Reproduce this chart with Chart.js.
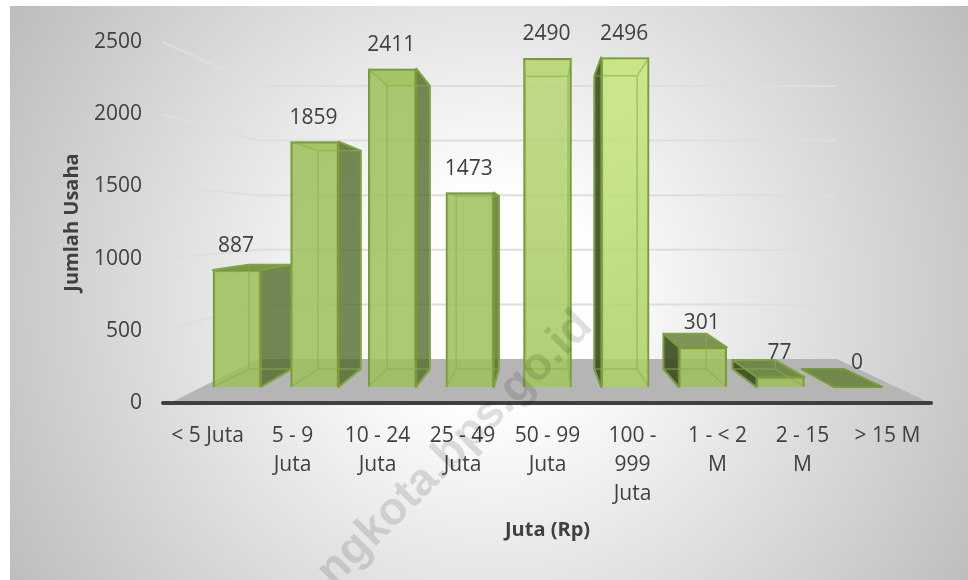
<!DOCTYPE html>
<html>
<head>
<meta charset="utf-8">
<script src="https://cdn.jsdelivr.net/npm/chart.js@4/dist/chart.umd.min.js"></script>
<style>
  html, body { margin: 0; padding: 0; background: #fff; }
  canvas { display: block; }
</style>
</head>
<body>
<canvas id="myChart" width="968" height="580"></canvas>
<script>
/*----------------------------Data------------------------------------*/
var categories = [
  "< 5 Juta",
  ["5 - 9", "Juta"],
  ["10 - 24", "Juta"],
  ["25 - 49", "Juta"],
  ["50 - 99", "Juta"],
  ["100 -", "999", "Juta"],
  ["1 - < 2", "M"],
  ["2 - 15", "M"],
  "> 15 M"
];
var jumlahUsaha = [887, 1859, 2411, 1473, 2490, 2496, 301, 77, 0];
var tickValues = [0, 500, 1000, 1500, 2000, 2500];

/*----------------------------Look------------------------------------*/
var textColor = "#404040";
var edgeColor = "#7a9a3a";
var barTopColors = ["rgba(157,191,90,.85)", "rgba(157,191,90,.85)", "rgba(157,191,90,.85)", "rgba(157,191,90,.85)", "rgba(185,215,118,.85)", "rgba(199,232,126,.85)", "rgba(157,191,90,.85)", "rgba(157,191,90,.85)", "rgba(157,191,90,.85)"];
var barLowColors = ["rgba(157,191,90,.85)", "rgba(157,191,90,.85)", "rgba(157,191,90,.85)", "rgba(157,191,90,.85)", "rgba(160,198,92,.85)", "rgba(170,208,100,.85)", "rgba(157,191,90,.85)", "rgba(157,191,90,.85)", "rgba(157,191,90,.85)"];

// 3d look: the back of a bar is the front shrunk towards this point
var vanishX = 540, vanishY = 224, depth = 0.89;
function backX(x) { return vanishX + (x - vanishX) * depth; }
function backY(y) { return vanishY + (y - vanishY) * depth; }

function poly(ctx, pts, fill, stroke) {
  ctx.beginPath();
  pts.forEach(function (p, i) { if (i) ctx.lineTo(p[0], p[1]); else ctx.moveTo(p[0], p[1]); });
  ctx.closePath();
  if (fill) { ctx.fillStyle = fill; ctx.fill(); }
  if (stroke) { ctx.strokeStyle = stroke; ctx.lineWidth = 2; ctx.lineJoin = "round"; ctx.stroke(); }
}

function frontBox(bar) {
  var w = bar.width / 2;
  return { l: bar.x - w, r: bar.x + w, t: bar.y, b: bar.base };
}

var scenePlugin = {
  id: "scene",
  beforeDraw: function (chart) {
    var ctx = chart.ctx;
    var g = ctx.createRadialGradient(490, 300, 0, 490, 300, 565);
    g.addColorStop(0, "#ffffff");
    g.addColorStop(0.18, "#ffffff");
    g.addColorStop(1, "#bcbcbc");
    ctx.fillStyle = g;
    ctx.fillRect(10, 6, 958, 574);
  },
  beforeDatasetsDraw: function (chart) {
    var ctx = chart.ctx, area = chart.chartArea;
    var y = chart.scales.y, wall = chart.scales.yWall;
    var wallLeft = 258, wallRight = 837;

    // grid lines: side wall then back wall
    ctx.save();
    ctx.lineWidth = 2;
    ctx.strokeStyle = "#dedede";
    tickValues.forEach(function (v) {
      if (v === 0) return;
      ctx.beginPath();
      ctx.moveTo(163, y.getPixelForValue(v));
      ctx.lineTo(wallLeft, wall.getPixelForValue(v));
      ctx.lineTo(wallRight, wall.getPixelForValue(v));
      ctx.stroke();
    });

    // floor
    poly(ctx, [[170, area.bottom], [wallLeft, wall.getPixelForValue(0)], [wallRight, wall.getPixelForValue(0)], [930, area.bottom]], "#b5b5b5");

    // axis line
    ctx.beginPath();
    ctx.moveTo(163, area.bottom);
    ctx.lineTo(931, area.bottom);
    ctx.lineWidth = 4;
    ctx.lineCap = "round";
    ctx.strokeStyle = "#3f3f3f";
    ctx.stroke();

    // sides and tops of the bars, behind all front faces
    chart.getDatasetMeta(0).data.forEach(function (bar) {
      var f = frontBox(bar);
      var bl = backX(f.l), br = backX(f.r), bt = backY(f.t), bb = backY(f.b);
      if (f.t > vanishY) {
        poly(ctx, [[f.l, f.t], [f.r, f.t], [br, bt], [bl, bt]], "rgba(95,125,50,0.8)", edgeColor);
      } else {
        poly(ctx, [[f.l, f.t], [f.r, f.t], [br, bt], [bl, bt]], "rgba(180,215,110,0.55)");
      }
      if (f.b - f.t < 1) return;
      if (br > f.r) {
        poly(ctx, [[f.r, f.t], [br, bt], [br, bb], [f.r, f.b]], "rgba(80,105,40,0.78)", edgeColor);
      }
      if (bl < f.l) {
        poly(ctx, [[f.l, f.t], [bl, bt], [bl, bb], [f.l, f.b]], "rgba(60,75,30,0.9)", "#6d8a3a");
      }
    });
    ctx.restore();
  },
  afterDatasetsDraw: function (chart) {
    var ctx = chart.ctx;
    ctx.save();
    chart.getDatasetMeta(0).data.forEach(function (bar, i) {
      var f = frontBox(bar);
      var bl = backX(f.l), br = backX(f.r), bt = backY(f.t), bb = backY(f.b);

      // edges seen through the glass
      if (f.b - f.t >= 1) {
        ctx.lineWidth = 1.5;
        ctx.strokeStyle = "rgba(135,175,70,0.6)";
        ctx.beginPath();
        ctx.moveTo(bl, bt); ctx.lineTo(bl, bb); ctx.lineTo(br, bb); ctx.lineTo(br, bt); ctx.closePath();
        ctx.moveTo(f.l, f.t); ctx.lineTo(bl, bt);
        ctx.moveTo(f.r, f.t); ctx.lineTo(br, bt);
        ctx.moveTo(f.l, f.b); ctx.lineTo(bl, bb);
        ctx.moveTo(f.r, f.b); ctx.lineTo(br, bb);
        ctx.stroke();
      }

      // value labels
      ctx.font = "21px 'Open Sans'";
      ctx.fillStyle = textColor;
      ctx.textAlign = "center";
      ctx.textBaseline = "middle";
      ctx.fillText(String(jumlahUsaha[i]), bar.x - 1, bar.y - 24);
    });
    ctx.restore();
  },
  afterDraw: function (chart) {
    // site watermark over the picture
    var ctx = chart.ctx;
    ctx.save();
    ctx.translate(334, 588);
    ctx.rotate(-Math.PI / 4);
    ctx.font = "bold 46px 'Liberation Sans'";
    ctx.fillStyle = "rgba(0,0,0,0.12)";
    ctx.textAlign = "left";
    ctx.textBaseline = "alphabetic";
    ctx.fillText("ngkota.bps.go.id", 0, 0);
    ctx.restore();
  }
};

/*----------------------------BarChart------------------------------------*/
new Chart("myChart", {
  type: "bar",
  plugins: [scenePlugin],
  data: {
    labels: categories,
    datasets: [{
      data: jumlahUsaha.map(function (v, i) { return { x: i, y: v }; }),
      xAxisID: "xBar",
      yAxisID: "yBar",
      barThickness: 48,
      borderColor: edgeColor,
      borderWidth: 2,
      backgroundColor: function (c) {
        var i = c.dataIndex, area = c.chart.chartArea;
        if (i === undefined || !area) return barTopColors[0];
        var g = c.chart.ctx.createLinearGradient(0, 60, 0, 390);
        g.addColorStop(0, barTopColors[i]);
        g.addColorStop(1, barLowColors[i]);
        return g;
      }
    }]
  },
  options: {
    responsive: false,
    animation: false,
    layout: { padding: { top: 42, right: 38, left: 0, bottom: 0 } },
    plugins: { legend: { display: false }, tooltip: { enabled: false } },
    scales: {
      x: {
        type: "category",
        labels: categories,
        afterFit: function (s) { s.height = 177; },
        grid: { display: false, drawTicks: false },
        border: { display: false },
        ticks: { color: textColor, font: { family: "Open Sans", size: 21, lineHeight: 1.4 }, padding: 18, maxRotation: 0, autoSkip: false },
        title: { display: true, text: "Juta (Rp)", color: textColor, font: { family: "Open Sans", size: 20, weight: "bold" }, padding: { top: 0, bottom: 38 } }
      },
      y: {
        type: "linear",
        min: 0,
        max: 2500,
        afterFit: function (s) { s.width = 165; },
        afterBuildTicks: function (s) { s.ticks = tickValues.map(function (v) { return { value: v }; }); },
        grid: { display: false, drawTicks: false },
        border: { display: false },
        ticks: { color: textColor, font: { family: "Open Sans", size: 21 }, padding: 23, callback: function (v) { return String(v); } },
        title: { display: true, text: "Jumlah Usaha", color: textColor, font: { family: "Open Sans", size: 20, weight: "bold" }, padding: { top: 60, bottom: 0 } }
      },
      // hidden scales for the bars and the back wall, the chart is in perspective
      xBar: { type: "linear", display: false, offset: false, grid: { offset: false }, min: -0.927, max: 8.927 },
      yBar: { type: "linear", display: false, min: -121.2, max: 2613.6 },
      yWall: { type: "linear", display: false, min: -403, max: 2903 }
    }
  }
});
</script>
</body>
</html>
